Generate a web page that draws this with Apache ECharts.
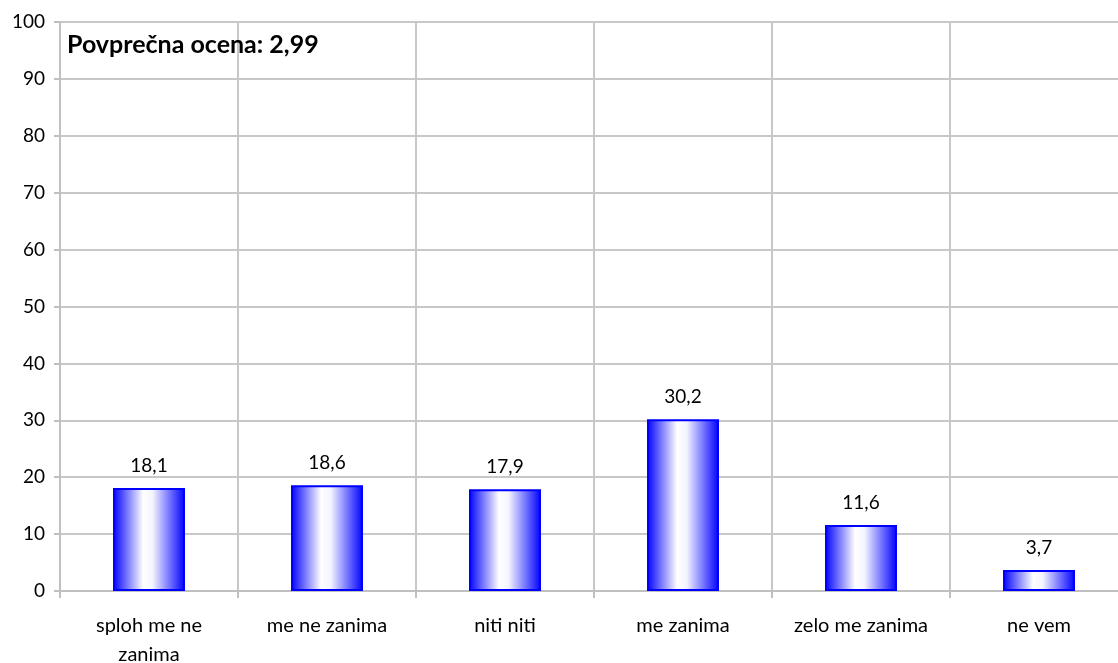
<!DOCTYPE html>
<html><head><meta charset="utf-8">
<script src="https://cdn.jsdelivr.net/npm/echarts@6/dist/echarts.min.js"></script>
<style>html,body{margin:0;padding:0;background:#fff}#c{width:1118px;height:663px}</style>
</head><body><div id="c"></div>
<script>
const categories = ['sploh me ne\nzanima', 'me ne zanima', 'niti niti', 'me zanima', 'zelo me zanima', 'ne vem'];
const values = [18.1, 18.6, 17.9, 30.2, 11.6, 3.7];
const titleText = 'Povprečna ocena: 2,99';
const FONT = 'Lato, "Open Sans", sans-serif';
const chart = echarts.init(document.getElementById('c'));
chart.setOption({
  animation: false,
  title: { text: titleText, left: 67, top: 32, padding: 0, textStyle: { fontFamily: FONT, fontSize: 25, fontWeight: 'bold', color: '#000' } },
  grid: { left: 60, top: 22, width: 1068, height: 569, outerBoundsMode: 'none', containLabel: false },
  xAxis: {
    type: 'category', data: categories, boundaryGap: true,
    axisLine: { lineStyle: { color: '#c0c0c0', width: 2 } },
    axisTick: { show: true, length: 7, lineStyle: { color: '#c0c0c0', width: 2 } },
    splitLine: { show: true, lineStyle: { color: '#c8c8c8', width: 2 } },
    axisLabel: { fontFamily: FONT, fontSize: 20, color: '#000', margin: 20, lineHeight: 29, interval: 0 }
  },
  yAxis: {
    type: 'value', min: 0, max: 100, interval: 10,
    axisLine: { show: true, lineStyle: { color: '#c0c0c0', width: 2 } },
    axisTick: { show: true, length: 6, lineStyle: { color: '#c0c0c0', width: 2 } },
    splitLine: { show: true, lineStyle: { color: '#c8c8c8', width: 2 } },
    axisLabel: { fontFamily: FONT, fontSize: 19, color: '#000', margin: 15 }
  },
  series: [{
    type: 'bar', data: values, barWidth: 72,
    itemStyle: {
      borderColor: '#0000ff', borderWidth: 2,
      color: new echarts.graphic.LinearGradient(0, 0, 1, 0, [
        { offset: 0, color: '#0000ff' },
        { offset: 0.42, color: '#ffffff' },
        { offset: 0.55, color: '#f4f4ff' },
        { offset: 1, color: '#0000ff' }
      ])
    },
    label: { show: true, position: 'top', distance: 13, fontFamily: FONT, fontSize: 19, color: '#000',
      formatter: p => String(p.value).replace('.', ',') }
  }]
});
</script></body></html>
